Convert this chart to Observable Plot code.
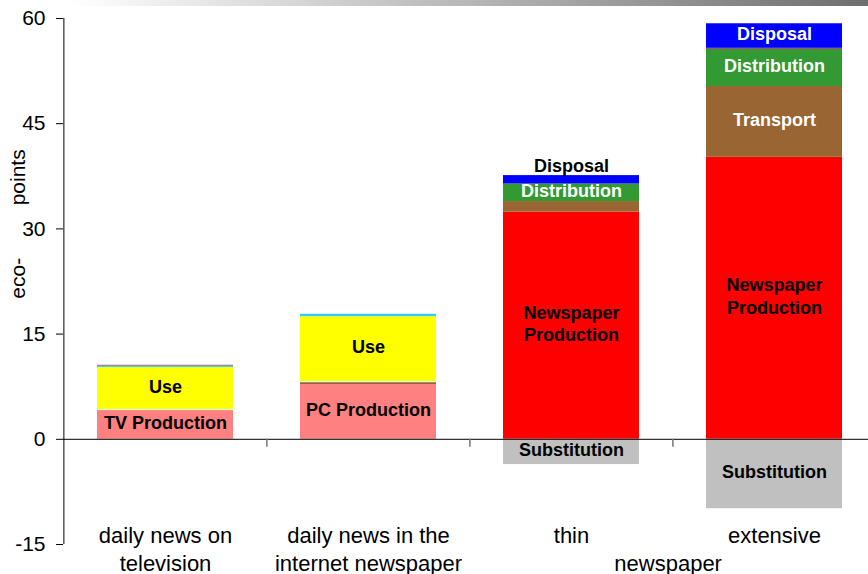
<!DOCTYPE html>
<html><head><meta charset="utf-8">
<script src="https://cdn.jsdelivr.net/npm/d3@7"></script>
<script src="https://cdn.jsdelivr.net/npm/@observablehq/plot@0.6"></script>
<style>
body{margin:0;background:#fff;font-family:"Liberation Sans",Arial,sans-serif;}
#wrap{position:relative;width:868px;height:574px;overflow:hidden}
#topbar{position:absolute;left:0;top:0;width:868px;height:6px;background:linear-gradient(to right,#ffffff 8%,#6e6e6e 100%);z-index:2}
</style></head><body><div id="wrap"><div id="topbar"></div></div>
<script>
// ---- data ----
const categories = ["daily news on television", "daily news in the internet newspaper", "thin newspaper", "extensive newspaper"];
const labelLine1 = ["daily news on", "daily news in the", "thin", "extensive"];
const labelLine2 = ["television", "internet newspaper", "", ""];
const groupLabel = "newspaper";
const yTicks = [-15, 0, 15, 30, 45, 60];
const yLabel = "eco-\u00a0\u00a0\u00a0\u00a0\u00a0\u00a0\u00a0\u00a0\u00a0points";

const components = ["Production", "Transport", "Infrastructure", "Use", "Distribution", "Network", "Other", "Disposal", "Substitution"];
const production     = [4.1, 7.8, 32.4, 40.2];
const transport      = [0, 0.28, 1.5, 10.1];
const infrastructure = [0.15, 0.15, 0, 0];
const use            = [6.0, 9.25, 0, 0];
const distribution   = [0, 0, 2.5, 5.3];
const network        = [0.2, 0.35, 0, 0];
const other          = [0.1, 0, 0, 0.15];
const disposal       = [0, 0, 1.2, 3.5];
const substitution   = [0, 0, -3.6, -9.9];

// segment labels (text content)
const segmentLabels = [
  [0, "Production", "TV Production"],
  [0, "Use", "Use"],
  [1, "Production", "PC Production"],
  [1, "Use", "Use"],
  [2, "Production", "Newspaper\nProduction"],
  [2, "Distribution", "Distribution"],
  [2, "Disposal", "Disposal"],
  [2, "Substitution", "Substitution"],
  [3, "Production", "Newspaper\nProduction"],
  [3, "Transport", "Transport"],
  [3, "Distribution", "Distribution"],
  [3, "Disposal", "Disposal"],
  [3, "Substitution", "Substitution"]
];

// ---- build stacked segments ----
const series = {Production: production, Transport: transport, Infrastructure: infrastructure, Use: use,
  Distribution: distribution, Network: network, Other: other, Disposal: disposal, Substitution: substitution};
const colors = {Transport: "#996633", Infrastructure: "#CCFFFF", Use: "#FFFF00", Distribution: "#339933",
  Network: "#33CCFF", Other: "#993366", Disposal: "#0000FF", Substitution: "#C0C0C0"};
const colorOf = d => d.component === "Production" ? (d.index < 2 ? "#FF8080" : "#FF0000") : colors[d.component];

const segs = [];
categories.forEach((c, i) => {
  let pos = 0, neg = 0;
  components.forEach(k => {
    const v = series[k][i];
    if (!v) return;
    let y1, y2;
    if (v >= 0) { y1 = pos; y2 = pos + v; pos = y2; } else { y1 = neg; y2 = neg + v; neg = y2; }
    segs.push({category: c, component: k, value: v, y1, y2, index: i});
  });
});
const labelRows = segmentLabels.map(([i, comp, text]) => {
  const s = segs.find(d => d.index === i && d.component === comp);
  return {...s, text};
});
const whiteLabel = d => (d.component === "Distribution" || d.component === "Transport" || (d.component === "Disposal" && d.index === 3));
const aboveLabel = d => d.component === "Disposal" && d.index === 2;

const pi = 0.33, po = 0.165, x0 = 63, x1 = 876;
const step = (x1 - x0) / (categories.length - pi + 2 * po);
const half = step / 2;
const font = "Liberation Sans, Arial, sans-serif";

const chart = Plot.plot({
  width: 868, height: 574,
  marginTop: 18, marginBottom: 30, marginLeft: 63, marginRight: 0,
  style: {fontFamily: font, background: "transparent"},
  x: {domain: categories, range: [x0, x1], paddingInner: pi, paddingOuter: po, axis: null},
  y: {domain: [-15, 60], axis: null},
  color: {type: "identity"},
  marks: [
    Plot.barY(segs, {x: "category", y1: "y1", y2: "y2", fill: colorOf}),
    Plot.ruleY([0], {stroke: "black", strokeWidth: 1}),
    Plot.ruleX([categories[0]], {x: d => d, dx: -half, y1: -15, y2: 60, stroke: "black", strokeWidth: 1}),
    Plot.ruleX(categories.slice(1), {x: d => d, dx: -half, y1: 0, y2: -1.15, stroke: "#777", strokeWidth: 1.5}),
    Plot.axisY({ticks: yTicks, tickSize: 7, tickPadding: 11, fontSize: 21, label: null, stroke: "black", fill: "black", tickFormat: d => String(d)}),
    Plot.text([yLabel], {text: d => d, frameAnchor: "left", textAnchor: "middle", y: () => 30.7, dx: -45, rotate: -90, fontSize: 21, fill: "black"}),
    Plot.text(labelRows.filter(d => !aboveLabel(d)), {
      x: "category", y: d => (d.y1 + d.y2) / 2, text: "text", dy: -3,
      fill: d => whiteLabel(d) ? "white" : "black", fontWeight: "bold", fontSize: 18, lineHeight: 1.25
    }),
    Plot.text(labelRows.filter(aboveLabel), {
      x: "category", y: "y2", text: "text", dy: -9, fill: "black", fontWeight: "bold", fontSize: 18
    }),
    Plot.text(categories, {x: d => d, text: (d, i) => labelLine1[i], frameAnchor: "bottom", dy: -2, fontSize: 22, fill: "black"}),
    Plot.text(categories, {x: d => d, text: (d, i) => labelLine2[i], frameAnchor: "bottom", dy: 26, fontSize: 22, fill: "black"}),
    Plot.text([groupLabel], {x: () => categories[2], text: d => d, dx: half - 5, frameAnchor: "bottom", dy: 26, fontSize: 22, fill: "black"})
  ]
});
document.getElementById("wrap").appendChild(chart);
</script></body></html>
